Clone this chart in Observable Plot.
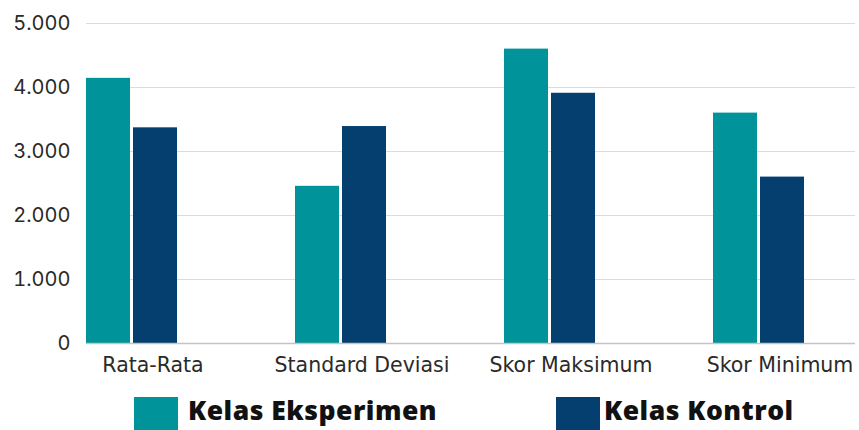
<!DOCTYPE html>
<html>
<head>
<meta charset="utf-8">
<script src="https://cdn.jsdelivr.net/npm/d3@7"></script>
<script src="https://cdn.jsdelivr.net/npm/@observablehq/plot@0.6"></script>
<style>
  html, body { margin: 0; padding: 0; background: #fff; }
  #wrap { position: relative; width: 859px; height: 430px; overflow: hidden; }
  .legend { position: absolute; top: 390px; left: 0; width: 859px; height: 40px; }
  .sw { position: absolute; top: 7px; width: 44px; height: 36px; }
  .lt { position: absolute; top: 5px; font-family: "Open Sans", sans-serif; font-weight: 800; font-size: 26.5px; letter-spacing: 0.5px; color: #111; line-height: 30px; white-space: nowrap; }
</style>
</head>
<body>
<div id="wrap"></div>
<script>
const categories = ["Rata-Rata", "Standard Deviasi", "Skor Maksimum", "Skor Minimum"];
const seriesNames = ["Kelas Eksperimen", "Kelas Kontrol"];
const eksperimen = [4143, 2456, 4600, 3600];
const kontrol = [3370, 3390, 3910, 2600];
const yTicks = [0, 1000, 2000, 3000, 4000, 5000];
const colors = ["#00939a", "#053f70"];

const rows = categories.map((c, i) => ({cat: c, E: eksperimen[i], K: kontrol[i]}));
const fmt = d => d === 0 ? "0" : d3.format(",")(d).replace(/,/g, ".");

const chart = Plot.plot({
  width: 859,
  height: 390,
  marginLeft: 86,
  marginRight: 4,
  marginTop: 23,
  marginBottom: 47,
  style: {fontFamily: "Inter, sans-serif", color: "#333", background: "#fff"},
  x: {domain: categories, paddingInner: 0.325, paddingOuter: 0},
  y: {domain: [0, 5000]},
  marks: [
    Plot.gridY(yTicks, {stroke: "#dcdcdc", strokeOpacity: 1, strokeWidth: 1.2}),
    Plot.barY(rows, {x: "cat", y: "E", fill: colors[0], insetLeft: 0, insetRight: 97}),
    Plot.barY(rows, {x: "cat", y: "K", fill: colors[1], insetLeft: 47, insetRight: 50}),
    Plot.ruleY([0], {stroke: "#c4c4c4", strokeWidth: 1.5}),
    Plot.axisY(yTicks, {tickSize: 0, tickPadding: 16, fontSize: 20, tickFormat: fmt, label: null, fill: "#2a2a2a"}),
    Plot.axisX({tickSize: 0, tickPadding: 14, dx: -4, fontSize: 20.5, fontFamily: "DejaVu Sans, sans-serif", fontWeight: 400, label: null, fill: "#2a2a2a"})
  ]
});

const wrap = document.getElementById("wrap");
wrap.appendChild(chart);

const legend = document.createElement("div");
legend.className = "legend";
const legendPos = [{sw: 134, tx: 188}, {sw: 556, tx: 604}];
seriesNames.forEach((name, i) => {
  const sw = document.createElement("div");
  sw.className = "sw";
  sw.style.left = legendPos[i].sw + "px";
  sw.style.background = colors[i];
  const t = document.createElement("div");
  t.className = "lt";
  t.style.left = legendPos[i].tx + "px";
  t.textContent = name;
  legend.appendChild(sw);
  legend.appendChild(t);
});
wrap.appendChild(legend);
</script>
</body>
</html>
